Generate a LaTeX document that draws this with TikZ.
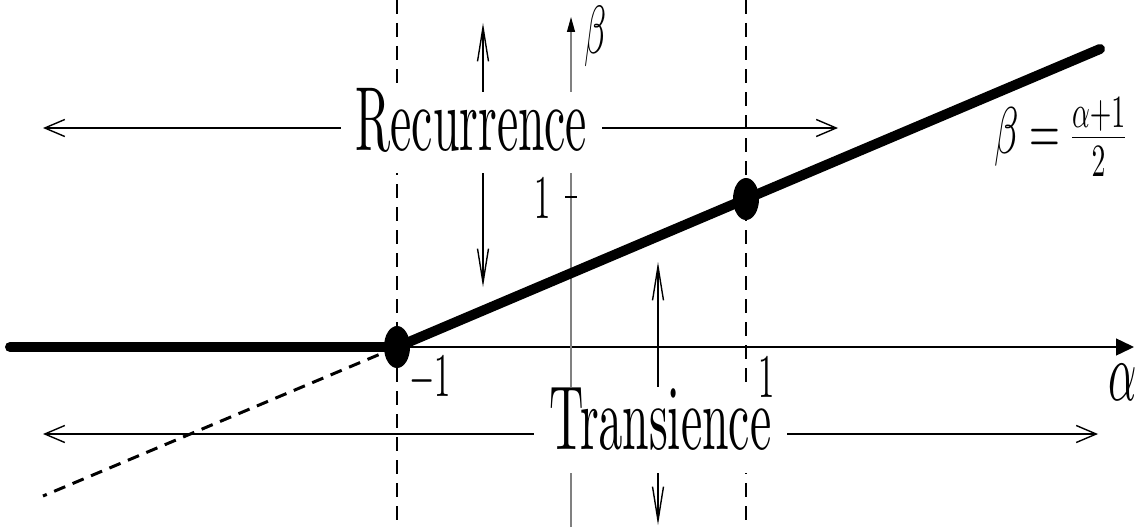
\documentclass[tikz,border=0pt]{standalone}
\usepackage{graphicx}
\usetikzlibrary{arrows.meta,shapes.geometric}
\DeclareFontFamily{OT1}{cmr}{\hyphenchar\font45 }
\DeclareFontShape{OT1}{cmr}{m}{n}{<->cmr10}{}
\DeclareFontFamily{OML}{cmm}{\skewchar\font127 }
\DeclareFontShape{OML}{cmm}{m}{it}{<->cmmi10}{}
\DeclareFontFamily{OMS}{cmsy}{\skewchar\font48 }
\DeclareFontShape{OMS}{cmsy}{m}{n}{<->cmsy10}{}
\newcommand\hsq[1]{\scalebox{0.525}[1]{#1}}
\begin{document}
\begin{tikzpicture}[x=1pt,y=-1pt,
  lbl/.style={inner sep=0pt, font=\fontsize{62}{70}\selectfont, anchor=base},
  big/.style={inner sep=0pt, inner xsep=15pt, fill=white, font=\fontencoding{OT1}\fontfamily{cmr}\fontsize{91}{100}\selectfont, anchor=base},
  hbarb/.style={line width=1.4pt, {Straight Barb[length=20pt,width=17pt]}-{Straight Barb[length=20pt,width=17pt]}},
  vbarb/.style={line width=1.4pt, {Straight Barb[length=34pt,width=11pt]}-{Straight Barb[length=34pt,width=11pt]}},
  guide/.style={line width=1.4pt, dash pattern=on 14pt off 9pt},
  graphline/.style={line width=10pt, line cap=round},
  extline/.style={line width=3pt, dash pattern=on 12pt off 8pt},
  dot/.style={ellipse, fill, inner sep=0pt, minimum width=26pt, minimum height=42pt}]
\useasboundingbox (0,0) rectangle (1139,527);
% coordinates
\coordinate (vt1) at (397,0);   \coordinate (vb1) at (397,527);
\coordinate (vt2) at (746,0);   \coordinate (vb2) at (746,527);
\coordinate (xs) at (10,347);   \coordinate (xe) at (1134,347);
\coordinate (ys) at (571,527);  \coordinate (ye) at (571,17);
\coordinate (tk1) at (565,197); \coordinate (tk2) at (577,197);
\coordinate (gs) at (10,347);   \coordinate (ge) at (1100,49);
\coordinate (de) at (43,496);
\coordinate (ra) at (43,128);   \coordinate (rb) at (838,128);
\coordinate (ta) at (43,434);   \coordinate (tb) at (1098,434);
\coordinate (ua) at (483,23);   \coordinate (ub) at (483,287);
\coordinate (va) at (658,262);  \coordinate (vb) at (658,525);
% dashed guides
\draw[guide] (vt1) -- (vb1);
\draw[guide] (vt2) -- (vb2);
% axes
\draw[line width=1.4pt, -{Triangle[length=18pt,width=17pt]}] (xs) -- (xe);
\draw[line width=1.2pt, black!50, -{Triangle[length=15pt,width=8pt,color=black]}] (ys) -- (ye);
\draw[line width=1.4pt] (tk1) -- (tk2);
% arrows
\draw[hbarb] (ra) -- (rb);
\draw[hbarb] (ta) -- (tb);
\draw[vbarb] (ua) -- (ub);
\draw[vbarb] (va) -- (vb);
% graph
\node[dot] (pm1) at (397,347) {};
\node[dot] (p1) at (746,199) {};
\draw[extline] (pm1.center) -- (de);
\draw[graphline] (gs) -- (pm1.center);
\draw[graphline] (pm1.center) -- (p1.center) -- (ge);
% region texts (masking)
\node[big, text height=58pt, text depth=23pt] (rec) at (471.5,150) {\hsq{Recurrence}};
\node[big, text height=62pt, text depth=24pt] (tra) at (660.5,449) {\hsq{Transience}};
% labels
\node[lbl] (lm1) at (430,396) {\hsq{$-1$}};
\node[lbl] (l1x) at (766.5,397) {\hsq{$1$}};
\node[lbl] (l1y) at (543,218) {\hsq{$1$}};
\node[lbl, font=\fontsize{84}{90}\selectfont] (la) at (1123,400) {\hsq{$\alpha$}};
\node[lbl, font=\fontsize{68}{76}\selectfont] (lb) at (596,54) {\hsq{$\beta$}};
\node[lbl, font=\fontsize{66}{74}\selectfont] (lf) at (1060,153.5) {\scalebox{0.6}[1]{$\beta=\frac{\alpha+1}{2}$}};
\end{tikzpicture}
\end{document}
